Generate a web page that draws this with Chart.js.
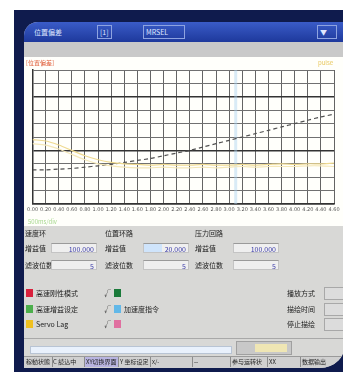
<!DOCTYPE html>
<html>
<head>
<meta charset="utf-8">
<script src="https://cdn.jsdelivr.net/npm/chart.js@4/dist/chart.umd.min.js"></script>
<style>
  body { margin: 0; width: 343px; height: 378px; overflow: hidden; background: #fff;
         font-family: "Noto Sans CJK SC", "Noto Sans", sans-serif; font-size: 7px; color: #222; }
  .abs { position: absolute; }
  #frame { left: 14px; top: 10px; width: 329px; height: 362px; background: #0f1b4d; }
  #win { left: 24px; top: 22px; width: 322px; height: 346px; background: #d8d8d6;
         border-top-left-radius: 14px; border-bottom-right-radius: 26px; overflow: hidden; }
  #title { left: 0; top: 0; width: 322px; height: 20px; background: linear-gradient(#3a5cc8, #1e399c); color: #dfe6ff; }
  #title .box { position: absolute; top: 3px; height: 12px; border: 1px solid #8ea3e0; line-height: 12px; padding: 0 2px; }
  #tools { left: 0; top: 20px; width: 322px; height: 15px; background: #c9c9c9; border-bottom: 1px solid #b0b0b0; }
  #plot { left: 0; top: 35px; width: 322px; height: 169px; background: #fffffb; }
  #wrap { position: absolute; left: 0; top: 0; width: 319px; height: 169px; }
  .lbl { position: absolute; white-space: nowrap; line-height: 10px; }
  .inp { position: absolute; height: 10px; background: #efefef; border: 1px solid #c4c4c4; border-top-color: #9a9a9a;
         color: #3a3aa8; text-align: right; line-height: 10px; padding-right: 2px; box-sizing: border-box; }
  .sq { position: absolute; width: 7px; height: 8px; }
  .btn { position: absolute; width: 20px; height: 11px; border: 1px solid #a8a8a8; background: #dcdcdc; }
  #status { left: 0; top: 334px; width: 322px; height: 11px; background: #d0d0d0; border-top: 1px solid #9a9a9a; }
  #status div { position: absolute; top: 0; height: 10px; border-right: 1px solid #8c8c8c; line-height: 10px;
                padding-left: 1px; white-space: nowrap; overflow: hidden; font-size: 6px; }
</style>
</head>
<body>
<div id="frame" class="abs"></div>
<div id="win" class="abs">
  <div id="title" class="abs">
    <div class="lbl" style="left:10px;top:5px;">位置偏差</div>
    <div class="box" style="left:73px;">[1]</div>
    <div class="box" style="left:119px;width:36px;">MRSEL</div>
    <div class="box" style="left:293px;width:14px;">▼</div>
  </div>
  <div id="tools" class="abs"></div>
  <div id="plot" class="abs">
    <div id="wrap"><canvas id="chart"></canvas></div>
    <div class="lbl" style="left:2px;top:1px;color:#e0603c;font-size:6px;">[位置偏差]</div>
    <div class="lbl" style="left:294px;top:1px;color:#e8c860;font-size:6px;">pulse</div>
    <div class="lbl" style="left:4px;top:160px;color:#a8d890;font-size:6px;">500ms/div</div>
  </div>

  <!-- gain settings -->
  <div class="lbl" style="left:1px;top:206px;">速度环</div>
  <div class="lbl" style="left:81px;top:206px;">位置环路</div>
  <div class="lbl" style="left:171px;top:206px;">压力回路</div>

  <div class="lbl" style="left:1px;top:221px;">增益值</div>
  <div class="inp" style="left:27px;top:221px;width:46px;">100.000</div>
  <div class="lbl" style="left:81px;top:221px;">增益值</div>
  <div class="inp" style="left:119px;top:221px;width:46px;background:linear-gradient(90deg,#cfe4fb 40%,#efefef 40%);">20.000</div>
  <div class="lbl" style="left:171px;top:221px;">增益值</div>
  <div class="inp" style="left:209px;top:221px;width:46px;">100.000</div>

  <div class="lbl" style="left:1px;top:238px;">滤波位数</div>
  <div class="inp" style="left:27px;top:238px;width:46px;">5</div>
  <div class="lbl" style="left:81px;top:238px;">滤波位数</div>
  <div class="inp" style="left:119px;top:238px;width:46px;">5</div>
  <div class="lbl" style="left:171px;top:238px;">滤波位数</div>
  <div class="inp" style="left:209px;top:238px;width:46px;">5</div>

  <!-- trace selection -->
  <div class="sq" style="left:2px;top:267px;background:#d8203c;"></div>
  <div class="lbl" style="left:12px;top:266px;">高速刚性模式</div>
  <div class="sq" style="left:2px;top:283px;background:#4caf4c;"></div>
  <div class="lbl" style="left:12px;top:282px;">高速增益设定</div>
  <div class="sq" style="left:2px;top:298px;background:#f0c020;"></div>
  <div class="lbl" style="left:12px;top:297px;">Servo Lag</div>

  <div class="lbl" style="left:80px;top:266px;">√</div>
  <div class="sq" style="left:90px;top:267px;background:#1a7a3a;"></div>
  <div class="lbl" style="left:80px;top:282px;">√</div>
  <div class="sq" style="left:90px;top:283px;background:#62b8e8;"></div>
  <div class="lbl" style="left:100px;top:282px;">加速度指令</div>
  <div class="lbl" style="left:80px;top:297px;">√</div>
  <div class="sq" style="left:90px;top:298px;background:#e070a0;"></div>

  <div class="lbl" style="left:263px;top:266px;">播放方式</div>
  <div class="btn" style="left:300px;top:265px;"></div>
  <div class="lbl" style="left:263px;top:282px;">描绘时间</div>
  <div class="btn" style="left:300px;top:281px;"></div>
  <div class="lbl" style="left:263px;top:297px;">停止描绘</div>
  <div class="btn" style="left:300px;top:296px;"></div>

  <!-- progress -->
  <div class="abs" style="left:0;top:316px;width:322px;height:1px;background:#a8a8a8;"></div>
  <div class="abs" style="left:6px;top:324px;width:200px;height:6px;background:#e9f1fc;border:1px solid #b8c4d4;"></div>
  <div class="abs" style="left:212px;top:319px;width:54px;height:12px;background:#c8c8c8;border:1px solid #a0a0a0;">
    <div class="abs" style="left:18px;top:2px;width:32px;height:8px;background:#efe6b4;"></div>
  </div>

  <div id="status" class="abs">
    <div style="left:1px;width:26px;">稼動状態</div>
    <div style="left:28px;width:31px;">C 読込中</div>
    <div style="left:61px;width:32px;background:#b8b4e0;">XY切换界面</div>
    <div style="left:95px;width:30px;">Y 坐标设定</div>
    <div style="left:127px;width:40px;">x/-</div>
    <div style="left:169px;width:36px;">--</div>
    <div style="left:207px;width:35px;">参与运转状</div>
    <div style="left:244px;width:31px;">XX</div>
    <div style="left:277px;width:40px;">数据输出</div>
  </div>
</div>

<script>
// time axis labels, one per grid column
const xTicks = ['0.00','0.20','0.40','0.60','0.80','1.00','1.20','1.40','1.60','1.80','2.00','2.20',
                '2.40','2.60','2.80','3.00','3.20','3.40','3.60','3.80','4.00','4.20','4.40','4.60'];

// position deviation (dashed trace)
const deviation = [2.55, 2.55, 2.6, 2.65, 2.75, 2.85, 2.95, 3.1, 3.25, 3.4, 3.6, 3.8,
                   4.0, 4.25, 4.5, 4.75, 5.0, 5.25, 5.5, 5.75, 6.0, 6.25, 6.5, 6.7];

// servo lag traces (yellow)
const lagA = [4.8, 4.7, 4.4, 4.0, 3.6, 3.3, 3.1, 3.0, 2.95, 2.9, 2.95, 2.9,
              2.9, 2.95, 2.9, 2.9, 2.95, 2.9, 2.95, 3.0, 2.95, 3.0, 3.0, 3.05];
const lagB = [4.5, 4.4, 4.1, 3.7, 3.3, 3.0, 2.85, 2.75, 2.7, 2.7, 2.75, 2.7,
              2.7, 2.75, 2.7, 2.75, 2.8, 2.75, 2.8, 2.8, 2.8, 2.85, 2.85, 2.8];

// cursor position on the time axis
const cursorAt = 15.5;

const pts = arr => arr.map((v, i) => ({ x: i, y: v }));

const cursorLine = {
  id: 'cursorLine',
  beforeDatasetsDraw(chart) {
    const { ctx, chartArea, scales } = chart;
    const x = scales.x.getPixelForValue(cursorAt);
    ctx.save();
    ctx.strokeStyle = 'rgba(170,210,240,0.45)';
    ctx.lineWidth = 3;
    ctx.beginPath();
    ctx.moveTo(x, chartArea.top);
    ctx.lineTo(x, chartArea.bottom);
    ctx.stroke();
    ctx.restore();
  }
};

Chart.defaults.font.family = '"DejaVu Sans", sans-serif';

new Chart(document.getElementById('chart'), {
  type: 'line',
  data: {
    datasets: [
      { data: pts(lagB), borderColor: '#f5e8b8', borderWidth: 1.2, pointRadius: 0, tension: 0.3 },
      { data: pts(lagA), borderColor: '#efda90', borderWidth: 1.2, pointRadius: 0, tension: 0.3 },
      { data: pts(deviation), borderColor: '#505050', borderWidth: 1.2, borderDash: [4, 3], pointRadius: 0, tension: 0.3 }
    ]
  },
  options: {
    responsive: true,
    maintainAspectRatio: false,
    animation: false,
    layout: { padding: { left: 6, right: 9, top: 13, bottom: 10 } },
    plugins: { legend: { display: false }, tooltip: { enabled: false } },
    scales: {
      x: {
        type: 'linear', min: 0, max: 23,
        grid: { color: '#646464', lineWidth: 1, drawTicks: false },
        border: { color: '#333', width: 1.5 },
        ticks: { stepSize: 1, autoSkip: false, maxRotation: 0, padding: 3,
                 font: { size: 5 }, color: '#555', callback: v => xTicks[v] }
      },
      y: {
        min: 0, max: 10,
        grid: { color: c => (c.tick.value % 4 === 0 ? '#333' : '#707070'), lineWidth: c => (c.tick.value % 4 === 0 ? 1.5 : 1), drawTicks: false },
        border: { color: '#333', width: 1.5 },
        ticks: { stepSize: 1, display: false }
      }
    }
  },
  plugins: [cursorLine]
});
</script>
</body>
</html>
